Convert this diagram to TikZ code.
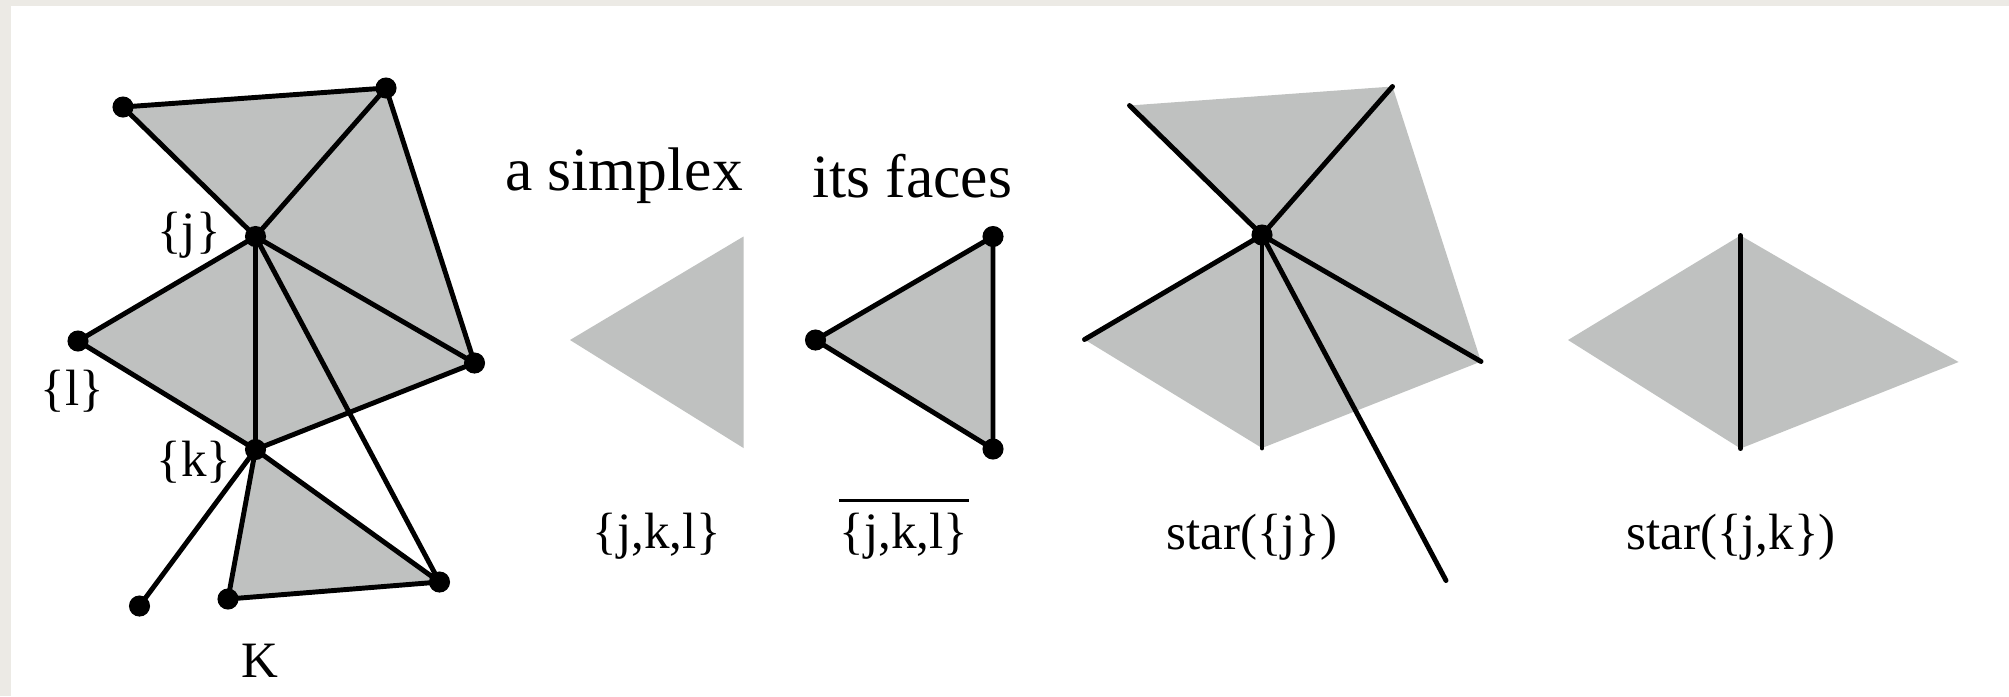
\documentclass[tikz,border=0pt]{standalone}
\usepackage{fontspec}
\setmainfont{Liberation Serif}
\definecolor{simplexgray}{RGB}{191,193,192}
\definecolor{framegray}{RGB}{236,234,229}

\begin{document}
\begin{tikzpicture}[x=0.01cm, y=-0.01cm,
	every node/.style={font=\fontsize{14.5}{17}\selectfont},
	title/.style={font=\fontsize{17.5}{21}\selectfont},
	face/.style={fill=simplexgray},
	edge/.style={line width=1.4pt, line cap=round},
	vtx/.style={fill=black}]
	\useasboundingbox (0,0) rectangle (2009,696);
	\fill[framegray] (0,0) rectangle (2009,696);
	\fill[white] (11,6) rectangle (2009,696);

	% the complex K
	\coordinate (A) at (123,107);
	\coordinate (B) at (386,88);
	\coordinate (j) at (255.5,236.5);
	\coordinate (l) at (78,341);
	\coordinate (R) at (474.5,363);
	\coordinate (k) at (255.5,449.5);
	\coordinate (D) at (439.5,582);
	\coordinate (C) at (228,599);
	\coordinate (P) at (139.5,606);
	\fill[face] (A) -- (B) -- (R) -- (k) -- (l) -- (j) -- cycle;
	\fill[face] (k) -- (C) -- (D) -- cycle;
	\draw[edge] (A) -- (B) -- (R) -- (k) -- (l) -- (j) -- cycle;
	\draw[edge] (B) -- (j) -- (R);
	\draw[edge] (j) -- (k);
	\draw[edge] (j) -- (D) -- (C) -- (k) -- (D);
	\draw[edge] (k) -- (P);
	\foreach \v in {A,B,j,l,R,k,D,C,P} \fill[vtx] (\v) circle[radius=3pt];
	\node (lj) at (189,235) {\{j\}};
	\node (ll) at (72.5,391) {\{l\}};
	\node (lk) at (194,462) {\{k\}};
	\node (lK) at (260,661) {K};

	% a simplex
	\begin{scope}[shift={(488,0)}]
		\coordinate (sx-j) at (255.5,236.5);
		\coordinate (sx-l) at (82,340);
		\coordinate (sx-k) at (255.5,448);
	\end{scope}
	\fill[face] (sx-j) -- (sx-l) -- (sx-k) -- cycle;
	\node[title] (tsimplex) at (624,176) {a simplex};
	\node (lsimplex) at (657,536) {\{j,k,l\}};

	% its faces
	\begin{scope}[shift={(737.5,0)}]
		\coordinate (fc-j) at (255.5,236.5);
		\coordinate (fc-l) at (78,340);
		\coordinate (fc-k) at (255.5,449);
	\end{scope}
	\fill[face] (fc-j) -- (fc-l) -- (fc-k) -- cycle;
	\draw[edge] (fc-j) -- (fc-l) -- (fc-k) -- cycle;
	\foreach \v in {fc-j,fc-l,fc-k} \fill[vtx] (\v) circle[radius=3pt];
	\node[title] (tfaces) at (912,176) {its faces};
	\node (lfaces) at (904,536) {\{j,k,l\}};
	\draw[line width=0.6pt, shorten <=0.12cm, shorten >=0.12cm] (lfaces.north west) -- (lfaces.north east);

	% star({j})
	\begin{scope}[shift={(1006.5,-1.5)}]
		\coordinate (st-A) at (123,107);
		\coordinate (st-B) at (386,88);
		\coordinate (st-j) at (255.5,236.5);
		\coordinate (st-l) at (78,341);
		\coordinate (st-R) at (474.5,363);
		\coordinate (st-k) at (255.5,449.5);
		\coordinate (st-D) at (439.5,582);
	\end{scope}
	\fill[face] (st-A) -- (st-B) -- (st-R) -- (st-k) -- (st-l) -- (st-j) -- cycle;
	\foreach \v in {st-A,st-B,st-l,st-R,st-k,st-D} \draw[edge] (st-j) -- (\v);
	\fill[vtx] (st-j) circle[radius=3pt];
	\node (lstarj) at (1252,537) {star(\{j\})};

	% star({j,k})
	\begin{scope}[shift={(1485,-1)}]
		\coordinate (sjk-j) at (255.5,236.5);
		\coordinate (sjk-l) at (83,341);
		\coordinate (sjk-R) at (473.5,363);
		\coordinate (sjk-k) at (255.5,449.5);
	\end{scope}
	\fill[face] (sjk-j) -- (sjk-l) -- (sjk-k) -- (sjk-R) -- cycle;
	\draw[edge] (sjk-j) -- (sjk-k);
	\node (lstarjk) at (1731,537) {star(\{j,k\})};
\end{tikzpicture}
\end{document}
